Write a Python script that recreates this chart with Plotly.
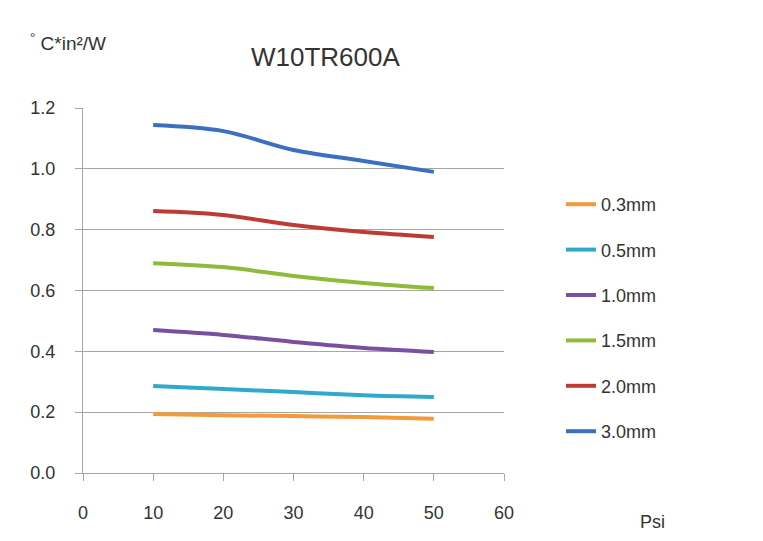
import plotly.graph_objects as go

psi = [10, 20, 30, 40, 50]
series_names = ["0.3mm", "0.5mm", "1.0mm", "1.5mm", "2.0mm", "3.0mm"]
v_03 = [0.194, 0.190, 0.187, 0.184, 0.178]
v_05 = [0.286, 0.276, 0.266, 0.256, 0.250]
v_10 = [0.470, 0.454, 0.431, 0.411, 0.398]
v_15 = [0.690, 0.677, 0.648, 0.625, 0.608]
v_20 = [0.861, 0.848, 0.815, 0.792, 0.776]
v_30 = [1.144, 1.124, 1.062, 1.026, 0.990]
series_values = [v_03, v_05, v_10, v_15, v_20, v_30]
colors = ["#f39a3a", "#31a9c9", "#7a4fa0", "#8fba3c", "#be3a34", "#3b6fc0"]

x_ticks = [0, 10, 20, 30, 40, 50, 60]
y_ticks = [0.0, 0.2, 0.4, 0.6, 0.8, 1.0, 1.2]

fig = go.Figure()
for i, (name, vals) in enumerate(zip(series_names, series_values)):
    fig.add_trace(go.Scatter(
        x=psi, y=vals, name=name, mode="lines",
        line=dict(color=colors[i], width=4, shape="spline", smoothing=1.0),
        legendgroup=name,
    ))

W, H = 763, 541
L, R, T, B = 83, 504, 108, 473

def px_x(p):
    return (p - L) / (R - L)

def px_y(p):
    return (B - p) / (B - T)

fig.update_layout(
    width=W, height=H,
    margin=dict(l=L, r=W - R, t=T, b=H - B, pad=0),
    paper_bgcolor="white", plot_bgcolor="white",
    font=dict(family="Liberation Sans", color="#333333", size=18),
    showlegend=True,
    legend=dict(
        x=px_x(561), xanchor="left",
        y=px_y(186), yanchor="top",
        tracegroupgap=19,
        font=dict(size=18, color="#333333"),
        bgcolor="rgba(0,0,0,0)",
    ),
    xaxis=dict(
        range=[0, 60], tickvals=x_ticks, ticktext=[str(v) for v in x_ticks],
        showgrid=False, zeroline=False,
        showline=True, linecolor="#a6a6a6", linewidth=1,
        ticks="outside", ticklen=7, tickcolor="#a6a6a6",
        ticklabelstandoff=16,
        tickfont=dict(size=18, color="#333333"),
    ),
    yaxis=dict(
        range=[0, 1.2], tickvals=y_ticks, ticktext=[f"{v:.1f}" for v in y_ticks],
        showgrid=True, gridcolor="#a6a6a6", gridwidth=1,
        zeroline=False,
        showline=True, linecolor="#a6a6a6", linewidth=1,
        ticks="outside", ticklen=7, tickcolor="#a6a6a6",
        ticklabelstandoff=16,
        tickfont=dict(size=18, color="#333333"),
    ),
    annotations=[
        dict(text="W10TR600A", xref="paper", yref="paper",
             x=px_x(325), y=px_y(57), xanchor="center", yanchor="middle",
             showarrow=False, font=dict(size=26, color="#333333")),
        dict(text="<sup>°</sup> C*in²/W", xref="paper", yref="paper",
             x=px_x(28), y=px_y(42), xanchor="left", yanchor="middle",
             showarrow=False, font=dict(size=19, color="#333333")),
        dict(text="Psi", xref="paper", yref="paper",
             x=px_x(652), y=px_y(522), xanchor="center", yanchor="middle",
             showarrow=False, font=dict(size=18, color="#333333")),
    ],
)

fig.write_html("out.html", config={"displayModeBar": False},
               post_script="document.body.style.margin='0';")
